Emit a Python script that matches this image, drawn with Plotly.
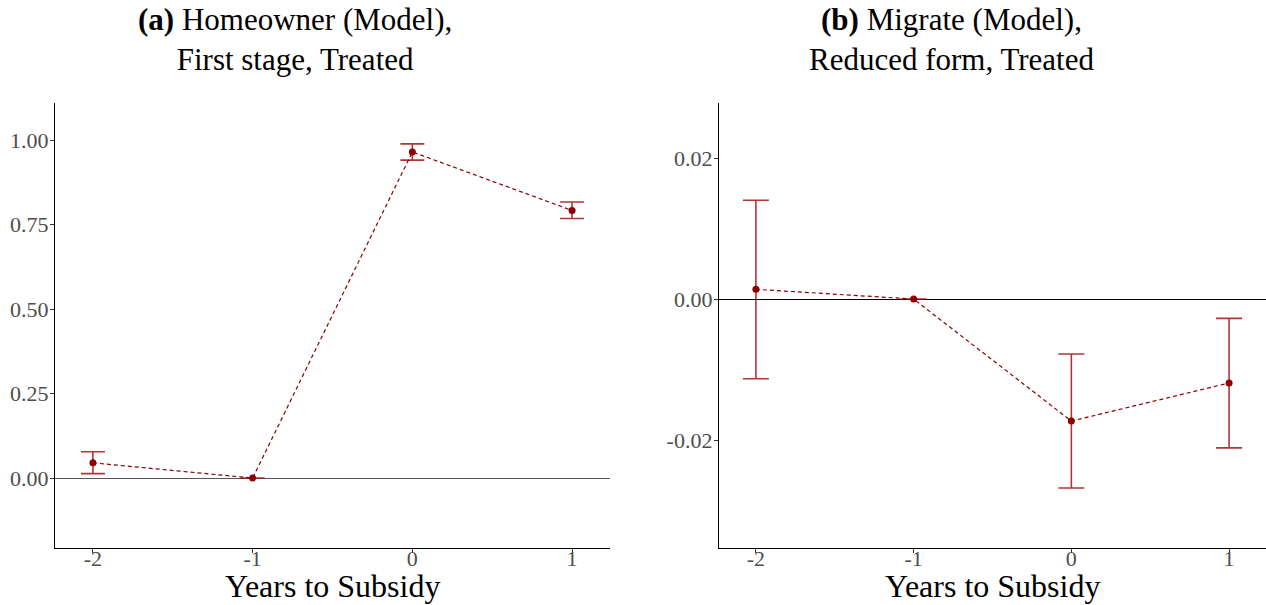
import plotly.graph_objects as go

W, H = 1266, 605

years = [-2, -1, 0, 1]
x_ticktext = ["-2", "-1", "0", "1"]

# Panel (a): Homeowner (Model), First stage, Treated
est_a = [0.045, 0.0, 0.965, 0.792]
lo_a = [0.013, 0.0, 0.941, 0.768]
hi_a = [0.078, 0.0, 0.989, 0.817]
yticks_a = [0.0, 0.25, 0.5, 0.75, 1.0]
yticktext_a = ["0.00", "0.25", "0.50", "0.75", "1.00"]

# Panel (b): Migrate (Model), Reduced form, Treated
est_b = [0.00138, 0.0, -0.0173, -0.0119]
lo_b = [-0.0113, 0.0, -0.0268, -0.0211]
hi_b = [0.0140, 0.0, -0.0078, -0.00274]
yticks_b = [-0.02, 0.0, 0.02]
yticktext_b = ["-0.02", "0.00", "0.02"]

title_a = "<b>(a)</b> Homeowner (Model),<br>First stage, Treated"
title_b = "<b>(b)</b> Migrate (Model),<br>Reduced form, Treated"
xlabel = "Years to Subsidy"

RED = "#8B0000"
ERR = "rgba(160,20,20,0.85)"
SERIF = "Liberation Serif, DejaVu Serif, serif"

fig = go.Figure()

def add_panel(est, lo, hi, xa, ya, capw):
    fig.add_trace(go.Scatter(
        x=years, y=est, xaxis=xa, yaxis=ya, mode="lines+markers",
        line=dict(color=RED, width=1.2, dash="4px,3px"),
        marker=dict(color=RED, size=7),
        error_y=dict(type="data", symmetric=False,
                     array=[h - e for h, e in zip(hi, est)],
                     arrayminus=[e - l for e, l in zip(est, lo)],
                     color=ERR, thickness=1.6, width=capw),
        showlegend=False, hoverinfo="skip"))

add_panel(est_a, lo_a, hi_a, "x", "y", 12)
add_panel(est_b, lo_b, hi_b, "x2", "y2", 13)

top = (H - 103) / H
bot = (H - 548) / H

axis_common = dict(showgrid=False, showline=True, linecolor="black", linewidth=1.3,
                   ticks="outside", ticklen=4, tickcolor="#333333", tickwidth=1,
                   tickfont=dict(family=SERIF, size=22, color="#4d4d4d"))

fig.update_layout(
    width=W, height=H, margin=dict(l=0, r=0, t=0, b=0),
    paper_bgcolor="white", plot_bgcolor="white",
    xaxis=dict(domain=[55 / W, 610 / W], range=[-2.2375, 1.2375],
               tickvals=years, ticktext=x_ticktext, zeroline=False,
               ticklabelstandoff=-14, anchor="y", **axis_common),
    yaxis=dict(domain=[bot, top], range=[-0.207, 1.11],
               tickvals=yticks_a, ticktext=yticktext_a,
               zeroline=True, zerolinecolor="#555555", zerolinewidth=1.2,
               ticklabelstandoff=-3, anchor="x", **axis_common),
    xaxis2=dict(domain=[719 / W, 1.0], range=[-2.234, 1.234],
                tickvals=years, ticktext=x_ticktext, zeroline=False,
                ticklabelstandoff=-14, anchor="y2", **axis_common),
    yaxis2=dict(domain=[bot, top], range=[-0.0353, 0.0278],
                tickvals=yticks_b, ticktext=yticktext_b,
                zeroline=True, zerolinecolor="black", zerolinewidth=1.2,
                ticklabelstandoff=-3, anchor="x2", **axis_common),
)

for cx, t in [(295, title_a), (951, title_b)]:
    fig.add_annotation(x=cx / W, y=1 - 0 / H, xref="paper", yref="paper",
                       xanchor="center", yanchor="top", showarrow=False,
                       text=t, align="center",
                       font=dict(family=SERIF, size=31, color="black"))

for cx in [(55 + 610) / 2, (719 + 1266) / 2]:
    fig.add_annotation(x=cx / W, y=(H - 606) / H, xref="paper", yref="paper",
                       xanchor="center", yanchor="bottom", showarrow=False,
                       text=xlabel, font=dict(family=SERIF, size=32, color="black"))

fig.write_html("out.html", config={"displayModeBar": False},
               post_script="document.body.style.margin='0px';document.body.style.overflow='hidden';")
